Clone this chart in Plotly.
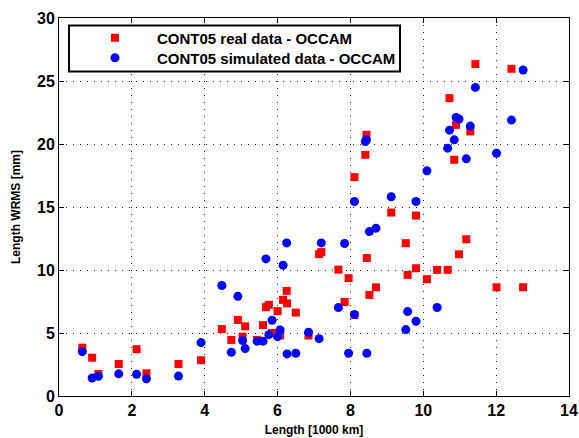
import plotly.graph_objects as go

# Baseline length [1000 km] (shared by both series)
length_km = [0.64, 0.91, 1.08, 1.64, 2.13, 2.40, 3.28, 3.90, 4.47, 4.73,
             4.91, 5.04, 5.11, 5.44, 5.60, 5.68, 5.76, 5.85, 6.00, 6.07,
             6.15, 6.25, 6.26, 6.50, 6.85, 7.14, 7.20, 7.67, 7.84, 7.95,
             8.11, 8.11, 8.41, 8.44, 8.45, 8.52, 8.70, 9.12, 9.52, 9.57,
             9.80, 9.80, 10.10, 10.38, 10.67, 10.72, 10.85, 10.90, 10.98, 11.18,
             11.29, 11.43, 12.01, 12.42, 12.74]

# Length WRMS [mm], CONT05 real data - OCCAM
wrms_real = [3.84, 3.04, 1.75, 2.54, 3.72, 1.80, 2.54, 2.84, 5.32, 4.45,
             6.04, 4.71, 5.53, 4.45, 5.63, 7.05, 7.24, 5.01, 6.74, 4.81,
             7.63, 8.34, 7.35, 6.62, 4.80, 11.26, 11.42, 10.03, 7.46, 9.35,
             17.37, 6.43, 19.14, 20.73, 10.95, 8.02, 8.63, 14.56, 12.13, 9.61,
             10.14, 14.32, 9.27, 10.01, 10.01, 23.64, 18.75, 21.52, 11.25, 12.44,
             21.00, 26.34, 8.63, 25.97, 8.63]

# Length WRMS [mm], CONT05 simulated data - OCCAM
wrms_sim = [3.52, 1.43, 1.57, 1.76, 1.73, 1.36, 1.58, 4.24, 8.77, 3.47,
            7.91, 4.40, 3.76, 4.35, 4.35, 10.88, 4.87, 6.01, 4.71, 5.24,
            10.38, 12.15, 3.34, 3.39, 5.06, 4.55, 12.15, 7.02, 12.10, 3.39,
            15.44, 6.46, 20.20, 20.33, 3.39, 13.05, 13.32, 15.81, 5.27, 6.70,
            15.44, 5.93, 17.87, 7.02, 19.67, 21.10, 20.33, 22.11, 21.98, 18.82,
            21.42, 24.49, 19.27, 21.90, 25.87]

x_ticks = [0, 2, 4, 6, 8, 10, 12, 14]
y_ticks = [0, 5, 10, 15, 20, 25, 30]

FONT = "Liberation Sans"

fig = go.Figure()
fig.add_trace(go.Scatter(
    x=length_km, y=wrms_real, mode="markers",
    name="CONT05 real data - OCCAM", legend="legend",
    marker=dict(symbol="square", size=8, color="#ff0000", line=dict(width=0)),
))
fig.add_trace(go.Scatter(
    x=length_km, y=wrms_sim, mode="markers",
    name="CONT05 simulated data - OCCAM", legend="legend2",
    marker=dict(symbol="circle", size=9, color="#0000ff", line=dict(width=0)),
))

# legend frame
fig.add_shape(type="rect", xref="paper", yref="paper",
              x0=(69 - 59) / 510, x1=(400 - 59) / 510,
              y0=(396 - 71.5) / 378, y1=(396 - 25.5) / 378,
              line=dict(color="black", width=2), fillcolor="white", layer="above")

axis_common = dict(
    showline=True, linecolor="black", linewidth=1, mirror="ticks",
    ticks="inside", ticklen=5, tickcolor="black", tickwidth=1,
    showgrid=True, gridcolor="#222222", gridwidth=1, griddash="1px,6px",
    zeroline=False,
    tickfont=dict(family=FONT, size=16, color="black", weight="bold"),
)

fig.update_xaxes(
    range=[0, 14], tickvals=x_ticks, ticktext=[str(v) for v in x_ticks],
    title=dict(text="Length [1000 km]", font=dict(family=FONT, size=12, color="black", weight="bold"), standoff=7),
    **axis_common,
)
fig.update_yaxes(
    range=[0, 30], tickvals=y_ticks, ticktext=[str(v) for v in y_ticks],
    title=dict(text="Length WRMS [mm]", font=dict(family=FONT, size=12, color="black", weight="bold"), standoff=13),
    **axis_common,
)

leg_common = dict(
    xanchor="left", yanchor="middle",
    bgcolor="rgba(0,0,0,0)", borderwidth=0, itemwidth=74,
    font=dict(family=FONT, size=15, color="black", weight="bold"),
)

fig.update_layout(
    width=579, height=438,
    margin=dict(l=59, r=10, t=18, b=42, autoexpand=False),
    paper_bgcolor="white", plot_bgcolor="white",
    showlegend=True,
    legend=dict(x=(73 - 59) / 510, y=(396 - 38) / 378, **leg_common),
    legend2=dict(x=(73 - 59) / 510, y=(396 - 58) / 378, **leg_common),
)

fig.write_html("out.html")
